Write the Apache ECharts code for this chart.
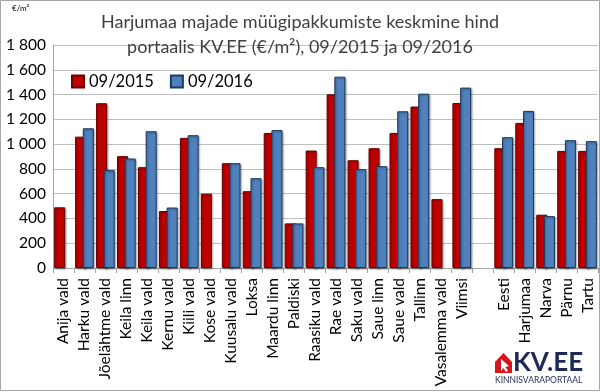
<!DOCTYPE html>
<html>
<head>
<meta charset="utf-8">
<script src="https://cdn.jsdelivr.net/npm/echarts@6/dist/echarts.min.js"></script>
<style>html,body{margin:0;padding:0;background:#fff}#c{width:600px;height:392px}</style>
</head>
<body>
<div id="c"></div>
<script>
const categories = ['Anija vald','Harku vald','Jõelähtme vald','Keila linn','Keila vald','Kernu vald','Kiili vald','Kose vald','Kuusalu vald','Loksa','Maardu linn','Paldiski','Raasiku vald','Rae vald','Saku vald','Saue linn','Saue vald','Tallinn','Vasalemma vald','Viimsi','','Eesti','Harjumaa','Narva','Pärnu','Tartu'];
const values2015 = [490,1060,1330,903,814,460,1050,600,846,620,1090,360,948,1402,870,967,1090,1303,556,1332,null,967,1171,430,945,945];
const values2016 = [null,1128,790,884,1104,488,1072,null,846,725,1113,360,814,1544,798,822,1265,1407,null,1456,null,1056,1268,419,1032,1024];
const yTicks = [0,200,400,600,800,1000,1200,1400,1600,1800];
const seriesNames = ['09/2015','09/2016'];

const FONT = 'Lato';
const chart = echarts.init(document.getElementById('c'), null, {renderer:'canvas'});
const fmt = v => v >= 1000 ? Math.floor(v/1000) + ' ' + String(v % 1000).padStart(3,'0') : String(v);
const shadow = {shadowColor:'rgba(0,0,0,0.35)', shadowBlur:2, shadowOffsetX:1, shadowOffsetY:1};
chart.setOption({
  animation:false,
  textStyle:{fontFamily:FONT},
  title:{
    text:'Harjumaa majade müügipakkumiste keskmine hind\nportaalis KV.EE (€/m²), 09/2015 ja 09/2016',
    left:'center', top:5,
    textStyle:{fontFamily:FONT, fontSize:18, fontWeight:'normal', color:'#404040', lineHeight:25}
  },
  legend:{
    data:seriesNames, left:66, top:68, itemWidth:12, itemHeight:12, itemGap:16,
    icon:'rect',
    textStyle:{fontFamily:FONT, fontSize:16.5, color:'#000'}
  },
  grid:{left:53, right:2, top:45, bottom:124, containLabel:false, outerBoundsMode:'none'},
  xAxis:{
    type:'category', data:categories,
    axisLine:{lineStyle:{color:'#a6a6a6'}},
    axisTick:{show:true, length:5, alignWithLabel:false, lineStyle:{color:'#a6a6a6'}},
    axisLabel:{rotate:90, interval:0, margin:10, fontFamily:FONT, fontSize:15.5, color:'#000', hideOverlap:false}
  },
  yAxis:{
    type:'value', min:0, max:1800, interval:200,
    axisLine:{show:true, lineStyle:{color:'#a6a6a6'}},
    axisTick:{show:false},
    splitLine:{lineStyle:{color:'#bfbfbf'}},
    axisLabel:{formatter:fmt, fontFamily:FONT, fontSize:15.5, color:'#000', margin:7}
  },
  series:[
    {name:seriesNames[0], type:'bar', data:values2015, barWidth:11, barGap:'-30%',
     itemStyle:Object.assign({color:'#C00000', borderColor:'#6b0000', borderWidth:1}, shadow)},
    {name:seriesNames[1], type:'bar', data:values2016, barWidth:11,
     itemStyle:Object.assign({color:'#4F81BD', borderColor:'#1f3a5f', borderWidth:1}, shadow)}
  ],
  graphic:[
    {type:'rect', shape:{x:0.5,y:0.5,width:599,height:390}, style:{fill:null, stroke:'#a6a6a6', lineWidth:1}, silent:true},
    {type:'text', left:12, top:4, style:{text:'€/m²', fontSize:8, fontFamily:FONT, fill:'#000'}},
    {type:'polygon', shape:{points:[[495,362],[503.5,353],[512,362],[512,373],[495,373]]}, style:{fill:'#d7141e'}},
    {type:'polygon', shape:{points:[[501,359],[501,371],[503.5,368],[506,372],[508,371],[505.5,367],[509,366]]}, style:{fill:'#fff'}},
    {type:'text', x:513, y:350, style:{text:'KV.EE', fontSize:26, fontWeight:'bold', fontFamily:FONT, fill:'#1e2a55'}},
    {type:'text', x:495, y:376, style:{text:'KINNISVARAPORTAAL', fontSize:8.5, fontFamily:FONT, fill:'#1e2a55'}}
  ]
});
</script>
</body>
</html>
